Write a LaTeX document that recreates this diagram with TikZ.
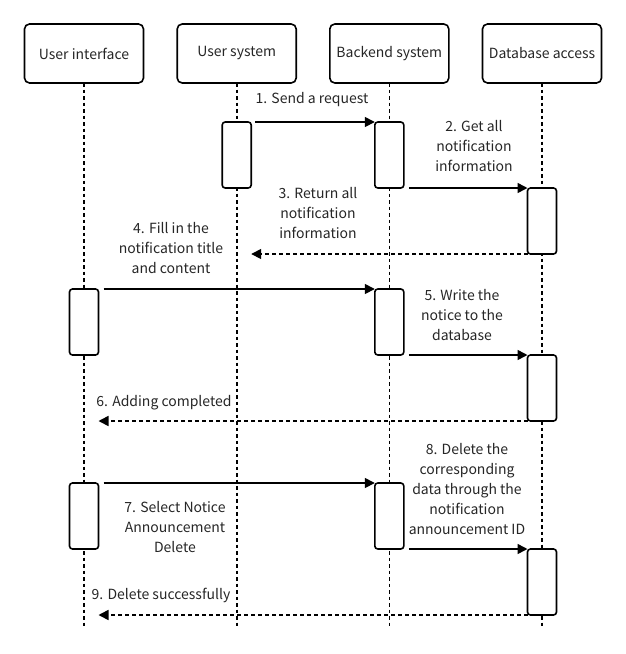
\documentclass[tikz,border=0pt]{standalone}
\usepackage{fontspec}
\setmainfont{Noto Sans CJK SC}
\usepackage{tikz}
\usetikzlibrary{ arrows.meta }

\begin{document}
\begin{tikzpicture}[x=1pt, y=-1pt,
        every node/.style={font=\fontsize{14}{20}\selectfont, text=black!85},
        actor/.style={draw=black, line width=1.6pt, rounded corners=5pt, outer sep=0pt, minimum width=119pt, minimum height=59pt},
        lifeline/.style={line width=1.6pt, dash pattern=on 3.5pt off 3pt},
        activation/.style={draw=black, fill=white, line width=1.6pt, rounded corners=3pt, outer sep=0pt, minimum width=29pt, minimum height=66pt},
        msg/.style={line width=1.6pt, -{Triangle[length=10pt, width=10pt]}},
        reply/.style={msg, dash pattern=on 4pt off 3pt},
        msgtext/.style={align=center, inner sep=0pt}]
        \useasboundingbox (0,0) rectangle (626,654);

        \node[actor] (ui) at (84,53.5) {User interface};
        \node[actor] (us) at (236.7,53.5) {User system};
        \node[actor] (be) at (389.3,53.5) {Backend system};
        \node[actor] (db) at (542,53.5) {Database access};

        \coordinate (bottom) at (0,628);
        \foreach \n in {ui,us,be,db}
            \draw[lifeline] (\n.south) -- (\n.south |- bottom);

        \node[activation] (us1) at (236.7,155) {};
        \node[activation] (be1) at (389.3,155) {};
        \node[activation] (db1) at (542,221) {};
        \node[activation] (ui2) at (84,322) {};
        \node[activation] (be2) at (389.3,322) {};
        \node[activation] (db2) at (542,388) {};
        \node[activation] (ui3) at (84,516) {};
        \node[activation] (be3) at (389.3,516) {};
        \node[activation] (db3) at (542,582) {};

        % messages
        \draw[msg] ([xshift=4pt]us1.north east) -- (be1.north west);
        \draw[msg] ([xshift=5pt]be1.south east) -- (db1.north west);
        \draw[reply] (db1.south west) -- (us1.east |- db1.south);
        \draw[msg] ([xshift=5pt]ui2.north east) -- (be2.north west);
        \draw[msg] ([xshift=5pt]be2.south east) -- (db2.north west);
        \draw[reply] (db2.south west) -- (ui2.east |- db2.south);
        \draw[msg] ([xshift=5pt]ui3.north east) -- (be3.north west);
        \draw[msg] ([xshift=5pt]be3.south east) -- (db3.north west);
        \draw[reply] (db3.south west) -- (ui3.east |- db3.south);

        \node[msgtext] (l1) at (312,100) {1. Send a request};
        \node[msgtext] (l2) at (474,146) {2. Get all\\notification\\information};
        \node[msgtext] (l3) at (318,213) {3. Return all\\notification\\information};
        \node[msgtext] (l4) at (171,248.5) {4. Fill in the\\notification title\\and content};
        \node[msgtext] (l5) at (462,315) {5. Write the\\notice to the\\database};
        \node[msgtext] (l6) at (164,403) {6. Adding completed};
        \node[msgtext] (l7) at (175,527) {7. Select Notice\\Announcement\\Delete};
        \node[msgtext] (l8) at (467,489) {8. Delete the\\corresponding\\data through the\\notification\\announcement ID};
        \node[msgtext] (l9) at (161,595) {9. Delete successfully};
    \end{tikzpicture}
\end{document}
